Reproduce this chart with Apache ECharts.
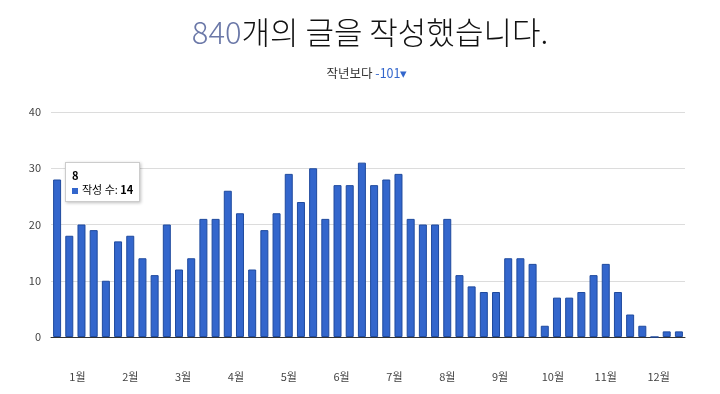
<!DOCTYPE html>
<html>
<head>
<meta charset="utf-8">
<script src="https://cdn.jsdelivr.net/npm/echarts@6/dist/echarts.min.js"></script>
<style>
html,body{margin:0;padding:0;background:#fff;}
#c{width:720px;height:394px;}
</style>
</head>
<body>
<div id="c"></div>
<script>
var weeks = ["1","2","3","4","5","6","7","8","9","10","11","12","13","14","15","16","17","18","19","20","21","22","23","24","25","26","27","28","29","30","31","32","33","34","35","36","37","38","39","40","41","42","43","44","45","46","47","48","49","50","51","52"];
var postCounts = [28,18,20,19,10,17,18,14,11,20,12,14,21,21,26,22,12,19,22,29,24,30,21,27,27,31,27,28,29,21,20,20,21,11,9,8,8,14,14,13,2,7,7,8,11,13,8,4,2,0,1,1];
var months = ["1월","2월","3월","4월","5월","6월","7월","8월","9월","10월","11월","12월"];
var yTicks = [0,10,20,30,40];
var totalPosts = 840;
var diffLastYear = -101;
var seriesName = "작성 수";
var shownWeek = 7;

var FONT = "'Noto Sans CJK KR','Noto Sans',sans-serif";
var chart = echarts.init(document.getElementById('c'));
chart.setOption({
  animation: false,
  textStyle: {fontFamily: FONT},
  grid: {left: 51, right: 35, top: 112, bottom: 57},
  graphic: [
    {type: 'text', x: 370, y: 32, style: {
      text: '{a|' + totalPosts + '}{b|개의 글을 작성했습니다.}',
      align: 'center', verticalAlign: 'middle',
      rich: {
        a: {fontSize: 31, fontWeight: 300, fill: '#6b78a8', fontFamily: FONT},
        b: {fontSize: 31, fontWeight: 300, fill: '#111', fontFamily: FONT}
      }
    }},
    {type: 'text', x: 367, y: 73, style: {
      text: '{a|작년보다 }{b|' + diffLastYear + '▾}',
      align: 'center', verticalAlign: 'middle',
      rich: {
        a: {fontSize: 12.5, fill: '#333', fontFamily: FONT},
        b: {fontSize: 12.5, fill: '#3366cc', fontFamily: FONT}
      }
    }}
  ],
  tooltip: {
    trigger: 'item',
    triggerOn: 'none',
    alwaysShowContent: true,
    position: [65, 162],
    padding: [5, 6],
    backgroundColor: '#fff',
    borderColor: '#ccc',
    borderWidth: 1,
    extraCssText: 'box-shadow:1px 1px 3px rgba(0,0,0,0.25);border-radius:0;line-height:14px;',
    textStyle: {fontSize: 11, color: '#000', fontFamily: FONT},
    formatter: function (p) {
      return '<b>' + p.name + '</b><br/>' +
        '<span style="display:inline-block;width:6px;height:6px;background:#3366cc;margin-right:4px;vertical-align:middle"></span>' +
        p.seriesName + ': <b>' + p.value + '</b>';
    }
  },
  xAxis: [
    {
      type: 'category', data: weeks, boundaryGap: true,
      axisLine: {show: true, lineStyle: {color: '#333', width: 1}},
      axisTick: {show: false}, axisLabel: {show: false}, splitLine: {show: false}
    },
    {
      type: 'category', data: months, boundaryGap: true, position: 'bottom',
      axisLine: {show: false}, axisTick: {show: false},
      axisLabel: {show: true, margin: 34, fontSize: 11, color: '#444', fontFamily: FONT, interval: 0}
    }
  ],
  yAxis: {
    type: 'value', min: yTicks[0], max: yTicks[yTicks.length - 1], interval: 10,
    axisLine: {show: false}, axisTick: {show: false},
    axisLabel: {fontSize: 11, color: '#444', margin: 10, fontFamily: FONT},
    splitLine: {lineStyle: {color: '#dcdcdc', width: 1}}
  },
  series: [{
    name: seriesName, type: 'bar', xAxisIndex: 0, data: postCounts,
    barWidth: 8,
    itemStyle: {color: '#3366cc', borderColor: '#1f4a9e', borderWidth: 1},
    emphasis: {itemStyle: {color: '#4a78d2'}}
  }]
});
chart.dispatchAction({type: 'showTip', seriesIndex: 0, dataIndex: shownWeek});
</script>
</body>
</html>
